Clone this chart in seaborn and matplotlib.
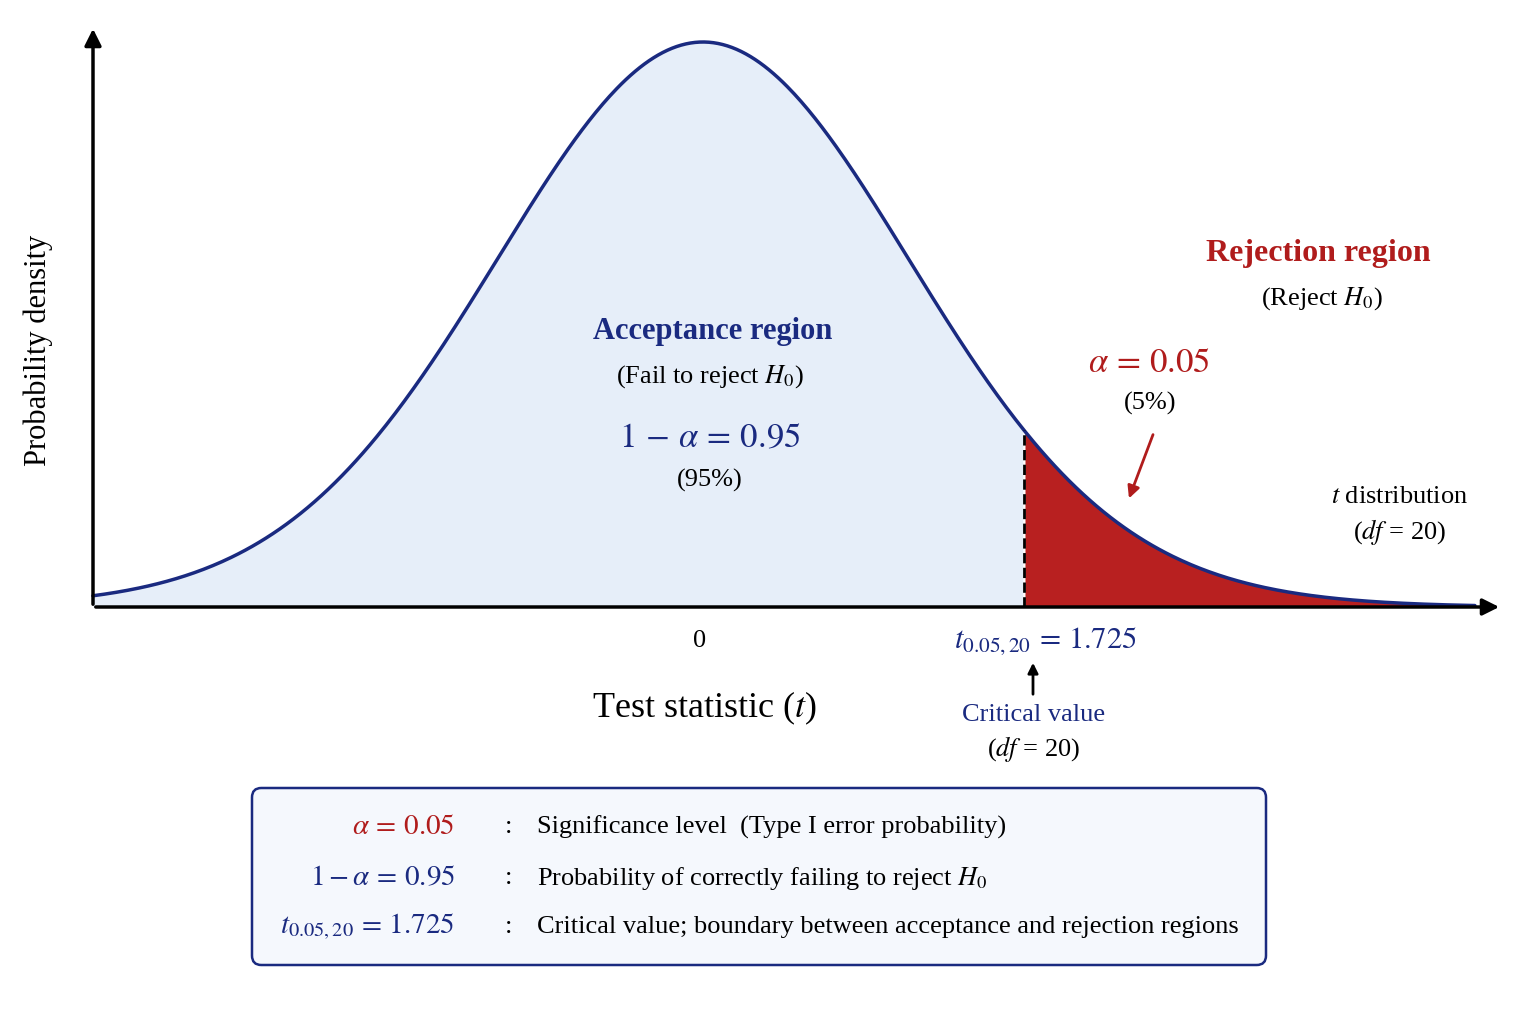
import math
import numpy as np
import pandas as pd
import matplotlib
matplotlib.use("Agg")
import matplotlib.pyplot as plt
from matplotlib.patches import FancyBboxPatch
import seaborn as sns

# chart values
df_t = 20
df_shape = 40               # shape used for the drawn bell
alpha = 0.05
t_crit = 1.725
curve_scale = 1.13          # horizontal stretch of the drawn curve
t_lo, t_hi = -3.28, 4.15
legend_left = [r"$\alpha\,=\,0.05$", r"$1-\alpha\,=\,0.95$", r"$t_{0.05,20}\,=\,1.725$"]
legend_right = ["Significance level  (Type I error probability)",
                r"Probability of correctly failing to reject $H_0$",
                "Critical value; boundary between acceptance and rejection regions"]
legend_cols = ["#b01c1c", "#1a2a80", "#1a2a80"]

NAVY = "#1a2a80"
RED = "#b01c1c"


def t_pdf(t, k):
    c = math.gamma((k + 1) / 2) / (math.sqrt(k * math.pi) * math.gamma(k / 2))
    return c * (1 + t ** 2 / k) ** (-(k + 1) / 2)


ts = np.linspace(t_lo, t_hi, 600)
dens = t_pdf(ts / curve_scale, df_shape)
dens = dens / t_pdf(0, df_shape)
curve = pd.DataFrame({"t": ts, "density": dens})

sns.set_theme(style="white")
plt.rcParams["font.family"] = ["Liberation Serif", "DejaVu Serif"]
plt.rcParams["mathtext.fontset"] = "stix"
plt.rcParams["text.color"] = "black"

fig = plt.figure(figsize=(15.36, 10.24), dpi=100)
ax = fig.add_axes([0, 0, 1, 1])
px = 186.0
ax.set_xlim(-703 / px, (1536 - 703) / px)
ax.set_ylim(-(1024 - 607) / 565, 607 / 565)
ax.axis("off")

def X(p):
    return (p - 703) / px

def Y(p):
    return (607 - p) / 565

acc = curve[curve.t <= t_crit]
rej = curve[curve.t >= t_crit]
ax.fill_between(acc.t, 0, acc.density, color="#e6eef9", lw=0)
ax.fill_between(rej.t, 0, rej.density, color="#b82020", lw=0)
sns.lineplot(data=curve, x="t", y="density", ax=ax, color=NAVY, lw=2.5)
h_crit = t_pdf(t_crit / curve_scale, df_shape) / t_pdf(0, df_shape)
ax.plot([t_crit, t_crit], [0, h_crit], ls="--", color="black", lw=2)

# axes arrows
ax.annotate("", xy=(X(1502), 0), xytext=(X(93), 0),
            arrowprops=dict(arrowstyle="-|>", color="black", lw=2.5, mutation_scale=25))
ax.annotate("", xy=(X(93), Y(26)), xytext=(X(93), 0),
            arrowprops=dict(arrowstyle="-|>", color="black", lw=2.5, mutation_scale=25))

def txt(x, y, s, **kw):
    ax.text(X(x), Y(y), s, ha=kw.pop("ha", "center"), va="center", **kw)

txt(700, 641, "0", fontsize=19)
txt(1045, 641, r"$t_{0.05,20}\,=\,1.725$", fontsize=22, color=NAVY)
ax.annotate("", xy=(X(1033), Y(660)), xytext=(X(1033), Y(697)),
            arrowprops=dict(arrowstyle="-|>", color="black", lw=2, mutation_scale=15))
txt(1034, 715, "Critical value", fontsize=19, color=NAVY)
txt(1034, 749, r"($df$ = 20)", fontsize=19)
txt(705, 708, r"Test statistic ($t$)", fontsize=26)
txt(38, 350, "Probability density", fontsize=22, rotation=90)

txt(713, 332, "Acceptance region", fontsize=22, color=NAVY, fontweight="bold")
txt(710, 377, r"(Fail to reject $H_0$)", fontsize=19)
txt(710, 439, r"$1\,-\,\alpha\,=\,0.95$", fontsize=25, color=NAVY)
txt(710, 480, "(95%)", fontsize=19)

txt(1318, 254, "Rejection region", fontsize=23, color=RED, fontweight="bold")
txt(1322, 299, r"(Reject $H_0$)", fontsize=19)
txt(1149, 364, r"$\alpha\,=\,0.05$", fontsize=25, color=RED)
txt(1150, 403, "(5%)", fontsize=19)
ax.annotate("", xy=(X(1128), Y(501)), xytext=(X(1154), Y(432)),
            arrowprops=dict(arrowstyle="-|>", color=RED, lw=2, mutation_scale=18))
txt(1400, 497, r"$t$ distribution", fontsize=19)
txt(1400, 532, r"($df$ = 20)", fontsize=19)

# legend box
box = FancyBboxPatch((X(252), Y(965)), X(1266) - X(252), Y(788) - Y(965),
                     boxstyle="round,pad=0,rounding_size=0.05", fc="#f5f8fd",
                     ec=NAVY, lw=1.8, mutation_aspect=1 / 3)
ax.add_patch(box)
for i, yy in enumerate([827, 878, 927]):
    txt(455, yy, legend_left[i], fontsize=21, color=legend_cols[i], ha="right")
    txt(509, yy, ":", fontsize=19)
    txt(537, yy, legend_right[i], fontsize=19, ha="left")

fig.savefig("out.png", dpi=100, facecolor="white")
